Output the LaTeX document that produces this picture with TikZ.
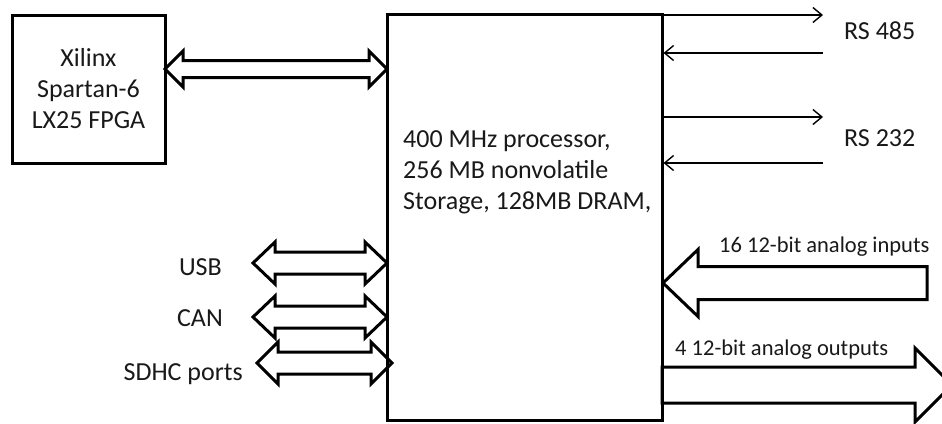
\documentclass[tikz,border=0pt]{standalone}
\usepackage{fontspec}
\setmainfont{Carlito}
\usetikzlibrary{arrows.meta}
\begin{document}
\begin{tikzpicture}[x=1pt,y=-1pt,
  box/.style={draw, line width=3pt, inner sep=0pt},
  hollow/.style={draw, line width=3pt, fill=white, line join=miter},
  thinarrow/.style={line width=1.4pt, -{Straight Barb[length=9pt,width=15pt,line width=1.4pt]}},
  lbl/.style={font=\fontsize{26}{31}\selectfont, inner sep=0pt, text=black!90},
  slbl/.style={font=\fontsize{22.5}{27}\selectfont, inner sep=0pt, text=black!90}]
\clip (0,0) rectangle (942,423);
\fill[white] (0,0) rectangle (942,423);
% hollow arrows (drawn first, boxes on top)
\draw[hollow] (165,69) -- (183,51) -- (183,60.5) -- (369,60.5) -- (369,51) -- (387,69) -- (369,87) -- (369,77.5) -- (183,77.5) -- (183,87) -- cycle;
\draw[hollow] (253,263) -- (275,242) -- (275,252) -- (365,252) -- (365,242) -- (387,263) -- (365,284) -- (365,274) -- (275,274) -- (275,284) -- cycle;
\draw[hollow] (253,317) -- (275,296) -- (275,306) -- (365,306) -- (365,296) -- (387,317) -- (365,338) -- (365,328) -- (275,328) -- (275,338) -- cycle;
\draw[hollow] (257,363) -- (278,342) -- (278,352) -- (371,352) -- (371,342) -- (392,363) -- (371,384) -- (371,374) -- (278,374) -- (278,384) -- cycle;
\draw[hollow] (663,283) -- (698,249.5) -- (698,266.5) -- (927,266.5) -- (927,299.5) -- (698,299.5) -- (698,316.5) -- cycle;
\draw[hollow] (662,367) -- (915,367) -- (915,348) -- (952,385) -- (915,422) -- (915,403) -- (662,403) -- cycle;
% boxes
\node[box, minimum width=153pt, minimum height=148pt, align=center, lbl] (fpga) at (88.5,89) {Xilinx\\Spartan-6\\LX25 FPGA};
\node[box, minimum width=275pt, minimum height=406pt] (cpu) at (524.5,217) {};
\node[lbl, anchor=west, align=left] (cputext) at (403,172) {400 MHz processor,\\256 MB nonvolatile\\Storage, 128MB DRAM,};
% serial lines
\coordinate (a1) at (823,15);
\coordinate (a2) at (823,53);
\coordinate (b1) at (823,117);
\coordinate (b2) at (823,163);
\draw[thinarrow] (cpu.east |- a1) -- (a1);
\draw[thinarrow] (a2) -- (cpu.east |- a2);
\draw[thinarrow] (cpu.east |- b1) -- (b1);
\draw[thinarrow] (b2) -- (cpu.east |- b2);
% labels
\node[lbl, anchor=base west] (rs485) at (844,39.5) {RS 485};
\node[lbl, anchor=base west] (rs232) at (844,146.5) {RS 232};
\node[slbl, anchor=base west] (ain) at (719,252) {16 12-bit analog inputs};
\node[slbl, anchor=base west] (aout) at (675,355) {4 12-bit analog outputs};
\node[lbl, anchor=base east] (usb) at (222,275) {USB};
\node[lbl, anchor=base east] (can) at (223,326) {CAN};
\node[lbl, anchor=base east] (sdhc) at (243,380) {SDHC ports};
\end{tikzpicture}
\end{document}
